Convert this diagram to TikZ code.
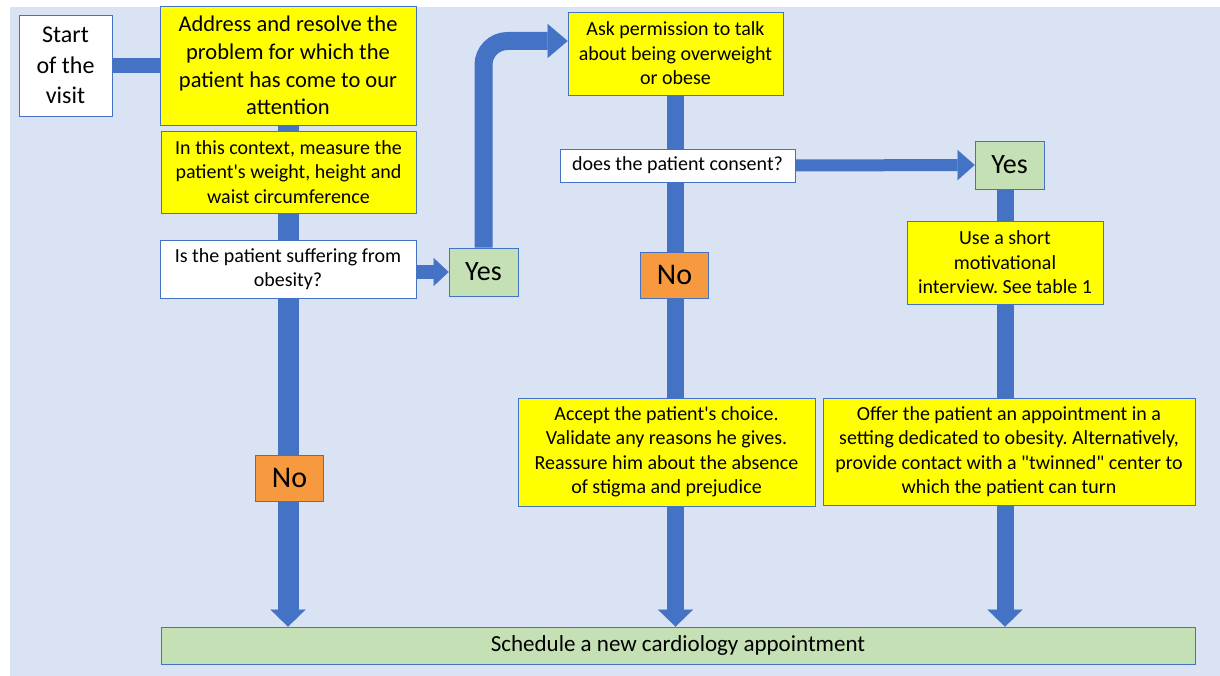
\documentclass[tikz,border=0pt]{standalone}
\usepackage{fontspec}
\setmainfont{Carlito}
\usepackage{xcolor}
\usetikzlibrary{arrows.meta,calc}
\definecolor{bgblue}{HTML}{DAE3F3}
\definecolor{flowblue}{HTML}{4472C4}
\definecolor{boxyellow}{HTML}{FFFF00}
\definecolor{boxgreen}{HTML}{C5E0B4}
\definecolor{boxorange}{HTML}{F79A3F}
\pgfdeclarelayer{back}
\pgfdeclarelayer{flows}
\pgfsetlayers{back,flows,main}
\frenchspacing

\begin{document}
\begin{tikzpicture}[
    x=1pt, y=-1pt,
    base/.style={rectangle, draw=flowblue, line width=0.8pt, inner sep=0pt, align=center, font=\fontsize{20}{24.5}\selectfont},
    action/.style={base, fill=boxyellow},
    question/.style={base, fill=white},
    yesbox/.style={base, fill=boxgreen, minimum width=69pt, minimum height=48pt, font=\fontsize{28}{30}\selectfont},
    nobox/.style={base, fill=boxorange, minimum width=68pt, minimum height=46pt, font=\fontsize{30}{32}\selectfont},
    endbox/.style={base, fill=boxgreen, font=\fontsize{23}{26}\selectfont},
    flow/.style={draw=flowblue, line width=17pt},
    down/.style={flow, -{Triangle[width=35pt, length=17pt, line width=0.1pt]}}
]
\useasboundingbox (0,0) rectangle (1220,676);
\begin{pgfonlayer}{back}
\fill[bgblue] (10,7) rectangle (1220,676);
\end{pgfonlayer}

% Left column
\node[question, minimum width=93pt, minimum height=101pt, font=\fontsize{24}{30.5}\selectfont] (start) at (65.5,65.5) {Start\\of the\\visit};
\node[action, minimum width=256pt, minimum height=119pt, font=\fontsize{22.5}{27.7}\selectfont] (address) at (288,65.5) {Address and resolve the\\problem for which the\\patient has come to our\\attention};
\node[action, minimum width=255pt, minimum height=82pt] (measure) at (288.5,172) {In this context, measure the\\patient\textquotesingle s weight, height and\\waist circumference};
\node[question, minimum width=256pt, minimum height=58pt] (obese) at (288,269) {Is the patient suffering from\\obesity?};
\node[yesbox] (yes1) at (483.5,272) {Yes};
\node[nobox] (no1) at (289.5,478) {No};

% Middle column
\node[action, minimum width=215pt, minimum height=83pt] (ask) at (675.5,53.5) {Ask permission to talk\\about being overweight\\or obese};
\node[question, minimum width=235pt, minimum height=33pt] (consent) at (677.5,165.5) {does the patient consent?};
\node[nobox] (no2) at (674.5,275) {No};
\node[action, minimum width=297pt, minimum height=108pt] (accept) at (666.5,452) {Accept the patient\textquotesingle s choice.\\Validate any reasons he gives.\\Reassure him about the absence\\of stigma and prejudice};

% Right column
\node[yesbox] (yes2) at (1009.5,165) {Yes};
\node[action, minimum width=196pt, minimum height=83pt] (use) at (1005,262.5) {Use a short\\motivational\\interview. See table 1};
\node[action, minimum width=372pt, minimum height=107pt] (offer) at (1009,451.5) {Offer the patient an appointment in a\\setting dedicated to obesity. Alternatively,\\provide contact with a \textquotedbl twinned\textquotedbl\ center to\\which the patient can turn};

% End
\node[endbox, minimum width=1034pt, minimum height=37pt] (schedule) at (678,645.5) {Schedule a new cardiology appointment};

% Flows
\begin{pgfonlayer}{flows}
\draw[flow, line width=15pt] (start.east |- address.west) -- (address.west);
\draw[down, line width=21pt] (address.south) -- (address.south |- schedule.north);
\draw[flow, line width=13pt, -{Triangle[width=28pt, length=15pt, line width=0.1pt]}] (obese.east |- yes1.west) -- (yes1.west);
\draw[flow, line width=18pt, rounded corners=24pt, -{Triangle[width=34pt, length=20pt, line width=0.1pt]}] (yes1.north) |- ([yshift=12.5pt]ask.west);
\draw[down] (ask.south) -- (ask.south |- schedule.north);
\draw[flow, line width=12pt, -{Triangle[width=30pt, length=17pt, line width=0.1pt]}] (consent.east) -- (yes2.west);
\draw[down] (use.center |- yes2.south) -- (use.center |- schedule.north);
\end{pgfonlayer}
\end{tikzpicture}
\end{document}
